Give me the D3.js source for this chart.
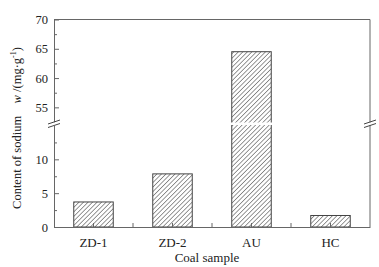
<!DOCTYPE html>
<html>
<head>
<meta charset="utf-8">
<script src="https://cdn.jsdelivr.net/npm/d3@7"></script>
<style>
  body { margin: 0; background: #fff; }
  svg text { font-family: "Liberation Serif", "Times New Roman", serif; fill: #222; }
  .axis path, .axis line { stroke: #666; }
</style>
</head>
<body>
<svg id="chart" width="379" height="267"></svg>
<script>
// data
const samples = ["ZD-1", "ZD-2", "AU", "HC"];
const sodium = [3.7, 7.85, 64.5, 1.7];
const lowerTicks = [0, 5, 10];
const lowerMinor = [2.5, 7.5, 12.5];
const upperTicks = [55, 60, 65, 70];
const upperMinor = [57.5, 62.5, 67.5];

const svg = d3.select("#chart");
const plotL = 54, plotR = 370, plotB = 227, plotT = 19.5;
const breakLow = 125.5, breakHigh = 122;
const lowMax = 15;

const x = d3.scaleBand().domain(samples).range([plotL, plotR]);
const yLow = d3.scaleLinear().domain([0, lowMax]).range([plotB, breakLow]);
const yHigh = d3.scaleLinear().domain([52.5, 70]).range([breakHigh, plotT]);
// value -> pixel across the broken axis
const yAll = v => v > lowMax ? yHigh(v) : yLow(v);

const defs = svg.append("defs");
const pat = defs.append("pattern")
    .attr("id", "hatch")
    .attr("patternUnits", "userSpaceOnUse")
    .attr("width", 3.2).attr("height", 3.2)
    .attr("patternTransform", "rotate(45)");
pat.append("rect").attr("width", 3.2).attr("height", 3.2).attr("fill", "#fff");
pat.append("line")
    .attr("x1", 0).attr("y1", 0).attr("x2", 0).attr("y2", 3.2)
    .attr("stroke", "#444").attr("stroke-width", 1.1);

const barW = 39.5;
const g = svg.append("g");

g.selectAll(".bar")
  .data(samples)
  .enter().append("rect")
    .attr("class", "bar")
    .attr("x", d => x(d) + x.bandwidth() / 2 - barW / 2)
    .attr("y", (d, i) => yAll(sodium[i]))
    .attr("width", barW)
    .attr("height", (d, i) => plotB - yAll(sodium[i]))
    .attr("fill", "url(#hatch)")
    .attr("stroke", "#444").attr("stroke-width", 1);

// white cut through bars that pass the break
const tall = samples.filter((d, i) => sodium[i] > lowMax);
g.selectAll(".cut")
  .data(tall)
  .enter().append("rect")
    .attr("x", d => x(d) + x.bandwidth() / 2 - barW / 2 - 2)
    .attr("y", breakHigh + 0.5)
    .attr("width", barW + 4)
    .attr("height", breakLow - breakHigh - 1)
    .attr("fill", "#fff");

// frame: top and right lines
svg.append("path")
    .attr("d", `M${plotL},${plotT}H${plotR}V${plotB}`)
    .attr("fill", "none").attr("stroke", "#666");

// left axis, two pieces
svg.append("g").attr("class", "axis")
    .attr("transform", `translate(${plotL},0)`)
    .call(d3.axisLeft(yLow).tickValues(lowerTicks).tickSize(-5).tickPadding(6).tickSizeOuter(0))
    .call(a => a.selectAll("text").attr("font-size", 12.5));
svg.append("g").attr("class", "axis")
    .attr("transform", `translate(${plotL},0)`)
    .call(d3.axisLeft(yLow).tickValues(lowerMinor).tickSize(-3).tickFormat("").tickSizeOuter(0))
    .call(a => a.select(".domain").remove());
svg.append("g").attr("class", "axis")
    .attr("transform", `translate(${plotL},0)`)
    .call(d3.axisLeft(yHigh).tickValues(upperTicks).tickSize(-5).tickPadding(6).tickSizeOuter(0))
    .call(a => a.selectAll("text").attr("font-size", 12.5));
svg.append("g").attr("class", "axis")
    .attr("transform", `translate(${plotL},0)`)
    .call(d3.axisLeft(yHigh).tickValues(upperMinor).tickSize(-3).tickFormat("").tickSizeOuter(0))
    .call(a => a.select(".domain").remove());

// bottom axis
const xAxis = svg.append("g").attr("class", "axis")
    .attr("transform", `translate(0,${plotB})`)
    .call(d3.axisBottom(x).tickSize(-4).tickPadding(11).tickSizeOuter(0));
xAxis.selectAll("text").attr("font-size", 13);
xAxis.selectAll(".mid")
  .data(samples.slice(1))
  .enter().append("line")
    .attr("x1", d => x(d)).attr("x2", d => x(d))
    .attr("y1", 0).attr("y2", -4)
    .attr("stroke", "#666");

// axis break marks on both sides
[plotL, plotR].forEach(ax => {
  svg.append("rect")
      .attr("x", ax - 2).attr("y", breakHigh + 0.5)
      .attr("width", 4).attr("height", breakLow - breakHigh - 1)
      .attr("fill", "#fff");
  [breakHigh, breakLow].forEach(yy => {
    svg.append("line")
        .attr("x1", ax - 6).attr("y1", yy + 2)
        .attr("x2", ax + 6).attr("y2", yy - 2)
        .attr("stroke", "#444").attr("stroke-width", 1);
  });
});

// titles
svg.append("text")
    .attr("x", 207).attr("y", 261.5)
    .attr("text-anchor", "middle").attr("font-size", 13)
    .text("Coal sample");

const yt = svg.append("text")
    .attr("transform", "translate(21,128) rotate(-90)")
    .attr("text-anchor", "middle").attr("font-size", 12.5);
yt.append("tspan").text("Content of sodium\u2003");
yt.append("tspan").attr("font-style", "italic").text("w");
yt.append("tspan").text(" /(mg\u00b7g");
yt.append("tspan").attr("font-size", 8).attr("dy", -5).text("-1");
yt.append("tspan").attr("dy", 5).text(")");
</script>
</body>
</html>
